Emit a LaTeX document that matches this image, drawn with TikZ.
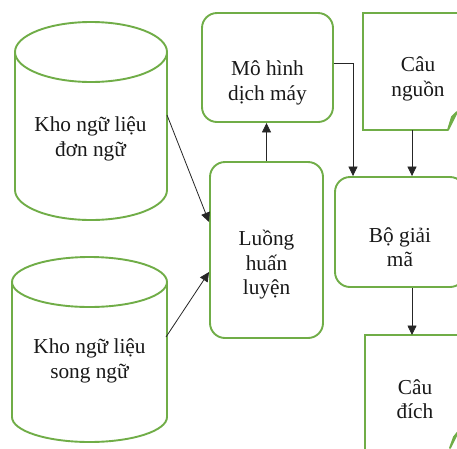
\documentclass[tikz,border=0pt]{standalone}
\usepackage{fontspec}
\setmainfont{Liberation Serif}
\usetikzlibrary{arrows.meta,calc}
\definecolor{grn}{HTML}{70AD47}
\definecolor{lnk}{HTML}{262626}
\begin{document}
\begin{tikzpicture}[x=1pt,y=-1pt,
  shp/.style={draw=grn, line width=1.9pt},
  rbox/.style={shp, rounded corners=15pt, inner sep=0pt},
  txt/.style={font=\fontsize{21.3}{24.5}\selectfont, align=center, inner sep=0pt, text=black!90},
  arr/.style={-{Triangle[length=9.5pt,width=9pt]}, line width=0.8pt, draw=lnk}]
\useasboundingbox (0,0) rectangle (457,448);
\fill[white] (0,0) rectangle (457,448);
% cylinder 1
\draw[shp] (15,52) -- (15,190) arc[start angle=180, end angle=360, x radius=76pt, y radius=30pt] -- (167,52);
\draw[shp] (91,52) ellipse [x radius=76pt, y radius=30pt];
\node[txt] (c1) at (90.5,139) {Kho ngữ liệu\\đơn ngữ};
\coordinate (c1r) at (167,115);
% cylinder 2
\draw[shp] (12,282) -- (12,417) arc[start angle=180, end angle=360, x radius=77.5pt, y radius=25pt] -- (167,282);
\draw[shp] (89.5,282) ellipse [x radius=77.5pt, y radius=25pt];
\node[txt] (c2) at (89.5,361) {Kho ngữ liệu\\song ngữ};
\coordinate (c2r) at (166,337);
% boxes
\node[rbox, minimum width=131pt, minimum height=109pt] (mh) at (267.5,67.5) {};
\node[txt] (mht) at (267.5,83) {Mô hình\\dịch máy};
\node[rbox, minimum width=113pt, minimum height=176pt] (lh) at (266.5,250) {};
\node[txt] (lht) at (266.5,265) {Luồng\\huấn\\luyện};
\node[rbox, minimum width=130pt, minimum height=110pt] (bd) at (400,232) {};
\node[txt] (bdt) at (400,247) {Bộ giải\\mã};
% source document
\draw[shp] (448,130) -- (363,130) -- (363,13) -- (480,13);
\draw[shp, fill=gray!45, line join=round] (448,130) -- (457,112) -- (452,117) -- cycle;
\node[txt] (cn) at (418,79) {Câu\\nguồn};
\coordinate (cnb) at (412,130);
% target document
\draw[shp] (365,460) -- (365,335) -- (480,335);
\draw[shp, fill=gray!45, line join=round] (450,448) -- (458,432) -- (454,437) -- cycle;
\node[txt] (cd) at (415,399) {Câu\\đích};
\coordinate (cdt) at (412,335);
% connectors
\draw[arr] (c1r) -- ([yshift=28pt]lh.west);
\draw[arr] (c2r) -- ([yshift=-22pt]lh.west);
\draw[arr] (lh.north) -- (lh.north |- mh.south);
\draw[arr] ([yshift=4.5pt]mh.east) -| ([xshift=-47pt]bd.north);
\draw[arr] (cnb) -- (cnb |- bd.north);
\draw[arr] (cnb |- bd.south) -- (cdt);
\end{tikzpicture}
\end{document}
